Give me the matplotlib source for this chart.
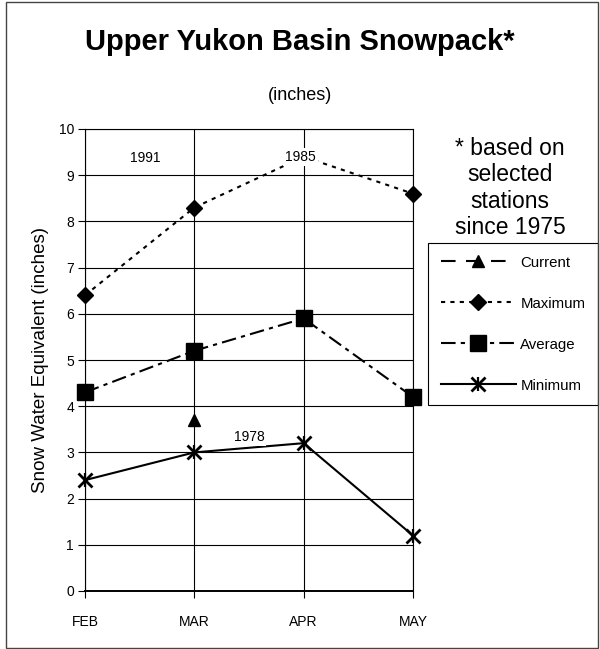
import numpy as np
import matplotlib
matplotlib.use("Agg")
import matplotlib.pyplot as plt
from matplotlib.patches import Rectangle

plt.rcParams['font.family'] = ['Liberation Sans', 'DejaVu Sans']

months = ["FEB", "MAR", "APR", "MAY"]
current = [np.nan, 3.7, np.nan, np.nan]
maximum = [6.4, 8.3, 9.4, 8.6]
average = [4.3, 5.2, 5.9, 4.2]
minimum = [2.4, 3.0, 3.2, 1.2]

# record-year notes: (month index, value, label)
year_notes = [(0.55, 9.38, "1991"), (1.97, 9.4, "1985"), (1.5, 3.33, "1978")]

fig = plt.figure(figsize=(6.0, 6.49), dpi=100)
ax = fig.add_axes([85/600, 58/649, 328/600, 462/649])

x = np.arange(len(months))
lw = 1.5
h_cur, = ax.plot(x, current, color='black', lw=lw, dashes=(7, 5), marker='^', ms=9,
                 zorder=3, clip_on=False)
h_max, = ax.plot(x, maximum, color='black', lw=lw, dashes=(2, 2.5), marker='D', ms=8,
                 zorder=3, clip_on=False)
h_avg, = ax.plot(x, average, color='black', lw=lw, dashes=(7, 2.5, 2, 2.5), marker='s',
                 ms=11, zorder=3, clip_on=False)
# minimum uses an x with a short vertical bar (excel style star)
h_min, = ax.plot(x, minimum, color='black', lw=lw, marker='x', ms=10, mew=2,
                 zorder=3, clip_on=False)
h_bar, = ax.plot(x, minimum, ls='none', color='black', marker='|', ms=10, mew=1.6,
                 zorder=4, clip_on=False)

for xi, yi, txt in year_notes:
    ax.text(xi, yi, txt, ha='center', va='center', fontsize=10, zorder=5,
            bbox=dict(facecolor='white', edgecolor='none', pad=1.5))

ax.set_xlim(0, 3)
ax.set_ylim(0, 10)
ax.set_xticks(x)
ax.set_xticklabels(months)
ax.set_yticks(range(0, 11))
ax.grid(True, color='black', lw=0.8)
ax.set_axisbelow(True)
for s in ax.spines.values():
    s.set_color('black')
    s.set_linewidth(0.8)
ax.spines['bottom'].set_linewidth(1.4)
ax.tick_params(axis='both', direction='out', length=5, width=0.8, labelsize=10, colors='black')
ax.tick_params(axis='x', pad=12)
ax.tick_params(axis='y', pad=3)
ax.set_ylabel("Snow Water Equivalent (inches)", fontsize=13.5, labelpad=7)

# titles and footnote
fig.text(0.5, 1 - 42/649, "Upper Yukon Basin Snowpack*", ha='center', va='center',
         fontsize=21, fontweight='bold')
fig.text(0.5, 1 - 95/649, "(inches)", ha='center', va='center', fontsize=13)
fig.text(510/600, 1 - 188/649, "* based on\nselected\nstations\nsince 1975", ha='center',
         va='center', fontsize=16.5, linespacing=1.2)

leg = ax.legend([h_cur, h_max, h_avg, (h_min, h_bar)],
                ['Current', 'Maximum', 'Average', 'Minimum'],
                loc='upper left', bbox_to_anchor=(428/600, 1 - 243/649),
                bbox_transform=fig.transFigure, fontsize=10.8, handlelength=5.0,
                handletextpad=0.3, labelspacing=1.8, borderpad=0.85, borderaxespad=0,
                fancybox=False, framealpha=1, edgecolor='black')
leg.get_frame().set_linewidth(0.8)

# outer chart border
fig.patches.append(Rectangle((6/600, 1/649), 592/600, 646/649, transform=fig.transFigure,
                             fill=False, edgecolor='#444444', lw=1))

fig.savefig("out.png", dpi=100)
